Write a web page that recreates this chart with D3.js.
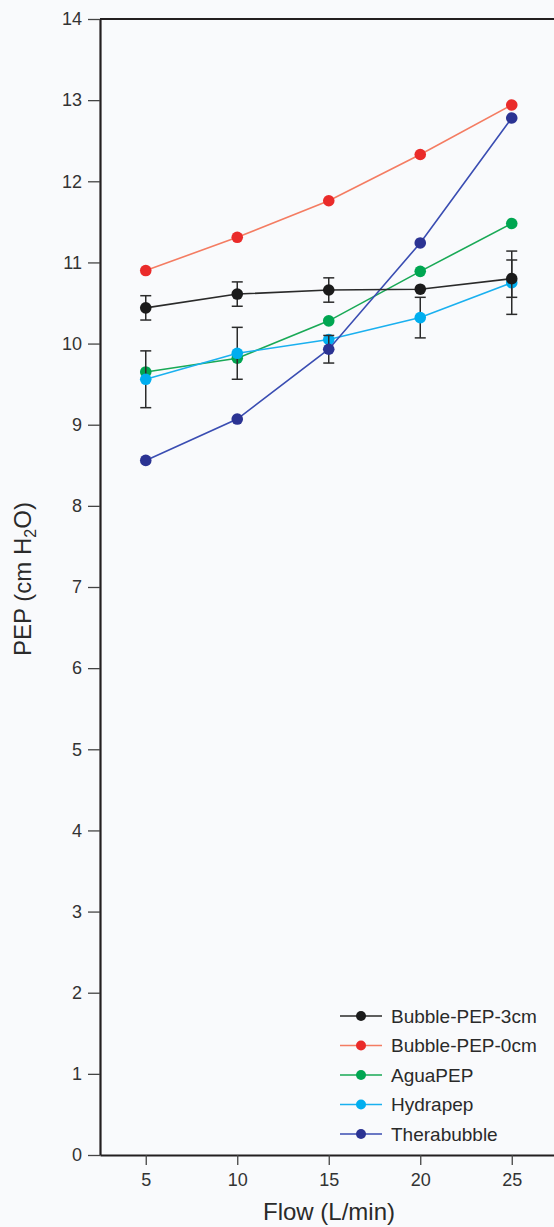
<!DOCTYPE html>
<html lang="en">
<head>
  <meta charset="UTF-8">
  <title>PEP vs Flow</title>
  <style type="text/css">
    body { margin: 0px; background: #f9fafc; }
    svg { display: block; font-family: "Liberation Sans", Arial, sans-serif; }
    .axis text { fill: #333; }
    .axis .domain { stroke: #231f20; stroke-width: 2.2px; }
    .axis .tick line { stroke: #444; stroke-width: 1.3px; }
    .title { font-size: 24px; fill: #2a2a2a; }
    .legend text { font-size: 19px; fill: #2a2a2a; }
  </style>
  <script src="https://d3js.org/d3.v7.min.js"></script>
</head>
<body>
  <svg width="554" height="1227"></svg>
  <script>

  const flows = [5, 10, 15, 20, 25];
  const yTicks = [0, 1, 2, 3, 4, 5, 6, 7, 8, 9, 10, 11, 12, 13, 14];
  const xTicks = [5, 10, 15, 20, 25];

  const bubble3   = [10.44, 10.61, 10.66, 10.67, 10.80];
  const bubble3Err = [0.15, 0.15, 0.15, 0, 0.23];
  const bubble0   = [10.90, 11.31, 11.76, 12.33, 12.94];
  const aguaPep   = [9.65, 9.82, 10.28, 10.89, 11.48];
  const hydrapep  = [9.56, 9.88, 10.05, 10.32, 10.75];
  const hydrapepErr = [0.35, 0.32, 0, 0.25, 0.39];
  const thera     = [8.56, 9.07, 9.93, 11.24, 12.78];
  const theraErr  = [0, 0, 0.17, 0, 0];

  // draw order (later on top)
  const series = [
    { name: 'Bubble-PEP-0cm', values: bubble0, err: null, dot: '#ea2b2a', line: '#f47c62' },
    { name: 'AguaPEP', values: aguaPep, err: null, dot: '#00a651', line: '#19a956' },
    { name: 'Hydrapep', values: hydrapep, err: hydrapepErr, dot: '#00aeef', line: '#1ab0ef' },
    { name: 'Therabubble', values: thera, err: theraErr, dot: '#2b3393', line: '#3a4db2' },
    { name: 'Bubble-PEP-3cm', values: bubble3, err: bubble3Err, dot: '#1b1b1b', line: '#2a2a2a' }
  ];
  const legendOrder = ['Bubble-PEP-3cm', 'Bubble-PEP-0cm', 'AguaPEP', 'Hydrapep', 'Therabubble'];

  const svg = d3.select('svg');
  const width = +svg.attr('width');

  const x = d3.scaleLinear().domain([2.5, 27.5]).range([100, 557.5]);
  const y = d3.scaleLinear().domain([0, 14]).range([1155, 19]);

  // top frame line
  svg.append('line')
      .attr('x1', x(2.5)).attr('x2', width)
      .attr('y1', y(14)).attr('y2', y(14))
      .attr('stroke', '#231f20').attr('stroke-width', 2.2);

  svg.append('g')
      .attr('class', 'axis')
      .attr('transform', `translate(0,${y(0)})`)
      .call(d3.axisBottom(x).tickValues(xTicks).tickSize(10).tickPadding(8).tickSizeOuter(0))
      .attr('font-size', 18)
      .attr('font-family', null);

  svg.append('g')
      .attr('class', 'axis')
      .attr('transform', `translate(${x(2.5)},0)`)
      .call(d3.axisLeft(y).tickValues(yTicks).tickSize(12).tickPadding(6).tickSizeOuter(0))
      .attr('font-size', 18)
      .attr('font-family', null);

  svg.append('text')
      .attr('class', 'title')
      .attr('x', 329).attr('y', 1220)
      .attr('text-anchor', 'middle')
      .text('Flow (L/min)');

  const yTitle = svg.append('text')
      .attr('class', 'title')
      .attr('transform', 'translate(31,579) rotate(-90)')
      .attr('text-anchor', 'middle');
  yTitle.append('tspan').text('PEP (cm H');
  yTitle.append('tspan').attr('font-size', '16px').attr('dy', 5).text('2');
  yTitle.append('tspan').attr('dy', -5).text('O)');

  const line = d3.line()
      .x((d, i) => x(flows[i]))
      .y(d => y(d));

  series.forEach(s => {
    const g = svg.append('g');
    g.append('path')
        .datum(s.values)
        .attr('d', line)
        .attr('fill', 'none')
        .attr('stroke', s.line)
        .attr('stroke-width', 1.6);

    if (s.err) {
      const eb = g.selectAll('.eb')
        .data(s.values.map((v, i) => ({ f: flows[i], v: v, e: s.err[i] })).filter(d => d.e > 0))
        .enter().append('g')
          .attr('stroke', '#2b2b2b')
          .attr('stroke-width', 1.5);
      eb.append('line')
          .attr('x1', d => x(d.f)).attr('x2', d => x(d.f))
          .attr('y1', d => y(d.v - d.e)).attr('y2', d => y(d.v + d.e));
      eb.append('line')
          .attr('x1', d => x(d.f) - 5.5).attr('x2', d => x(d.f) + 5.5)
          .attr('y1', d => y(d.v + d.e)).attr('y2', d => y(d.v + d.e));
      eb.append('line')
          .attr('x1', d => x(d.f) - 5.5).attr('x2', d => x(d.f) + 5.5)
          .attr('y1', d => y(d.v - d.e)).attr('y2', d => y(d.v - d.e));
    }

    g.selectAll('circle').data(s.values)
      .enter().append('circle')
        .attr('cx', (d, i) => x(flows[i]))
        .attr('cy', d => y(d))
        .attr('r', 5.8)
        .attr('fill', s.dot);
  });

  const legend = svg.append('g')
      .attr('class', 'legend')
      .attr('transform', 'translate(340,1016)');

  const item = legend.selectAll('g')
    .data(legendOrder.map(n => series.find(s => s.name === n)))
    .enter().append('g')
      .attr('transform', (d, i) => `translate(0,${i * 29.5})`);
  item.append('line')
      .attr('x1', 0).attr('x2', 42)
      .attr('stroke', d => d.line)
      .attr('stroke-width', 1.6);
  item.append('circle')
      .attr('cx', 21).attr('r', 5)
      .attr('fill', d => d.dot);
  item.append('text')
      .attr('x', 51).attr('dy', '0.35em')
      .text(d => d.name);

  </script>
</body>
</html>
